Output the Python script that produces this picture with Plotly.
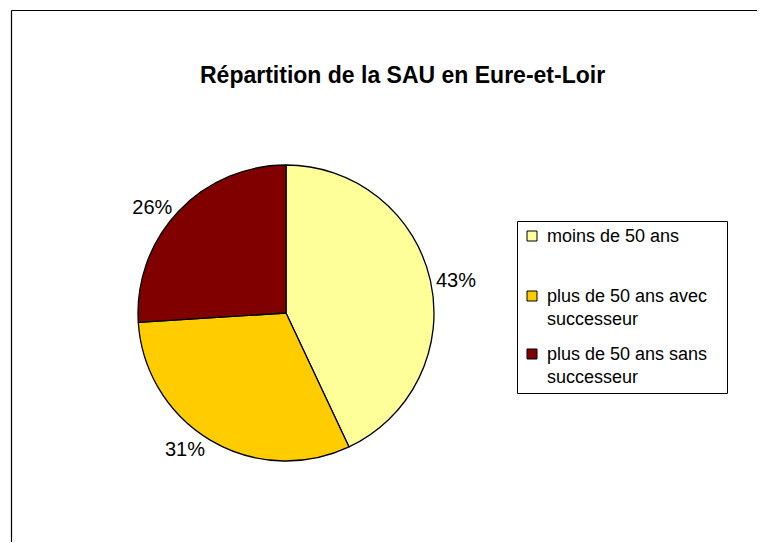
import plotly.graph_objects as go

labels = ["moins de 50 ans", "plus de 50 ans avec successeur", "plus de 50 ans sans successeur"]
legend_text = ["moins de 50 ans", "plus de 50 ans avec<br>successeur", "plus de 50 ans sans<br>successeur"]
values = [43, 31, 26]
colors = ["#FFFF99", "#FFCC00", "#800000"]
title = "Répartition de la SAU en Eure-et-Loir"

OFF = 8  # page body margin offset
W, H = 765 - 2 * OFF, 550 - 2 * OFF
FONT = "Liberation Sans, Arial, sans-serif"

def px(x):
    return (x - OFF) / W

def py(y):
    return 1 - (y - OFF) / H

fig = go.Figure(go.Pie(
    labels=labels,
    values=values,
    marker=dict(colors=colors, line=dict(color="black", width=1.3)),
    sort=False,
    direction="clockwise",
    rotation=0,
    textposition="outside",
    texttemplate="%{percent:.0%}",
    textfont=dict(family=FONT, size=20, color="black"),
    domain=dict(x=[px(138), px(434)], y=[py(461), py(165)]),
    showlegend=False,
    hoverinfo="label+percent",
))

shapes = [
    dict(type="line", xref="paper", yref="paper", x0=px(11.5), y0=py(560), x1=px(11.5), y1=py(10.5),
         line=dict(color="black", width=1.2)),
    dict(type="line", xref="paper", yref="paper", x0=px(11.5), y0=py(10.5), x1=px(780), y1=py(10.5),
         line=dict(color="black", width=1.2)),
    dict(type="rect", xref="paper", yref="paper", x0=px(517.5), y0=py(393.5), x1=px(727.5), y1=py(221.5),
         line=dict(color="black", width=1), fillcolor="white"),
]
annotations = []
row_y = [236, 296, 354]
for txt, col, y in zip(legend_text, colors, row_y):
    shapes.append(dict(type="rect", xref="paper", yref="paper", x0=px(527), y0=py(y + 5), x1=px(537), y1=py(y - 5),
                       line=dict(color="black", width=1), fillcolor=col))
    annotations.append(dict(xref="paper", yref="paper", x=px(545), y=py(y - 12), text=txt,
                            showarrow=False, xanchor="left", yanchor="top", align="left",
                            font=dict(family=FONT, size=18, color="black")))

annotations.append(dict(xref="paper", yref="paper", x=px(402), y=py(75), text="<b>" + title + "</b>",
                        showarrow=False, xanchor="center", yanchor="middle",
                        font=dict(family=FONT, size=23, color="black")))

fig.update_layout(
    width=W, height=H,
    margin=dict(l=0, r=0, t=0, b=0),
    paper_bgcolor="white",
    plot_bgcolor="white",
    shapes=shapes,
    annotations=annotations,
)

fig.write_html("out.html")
